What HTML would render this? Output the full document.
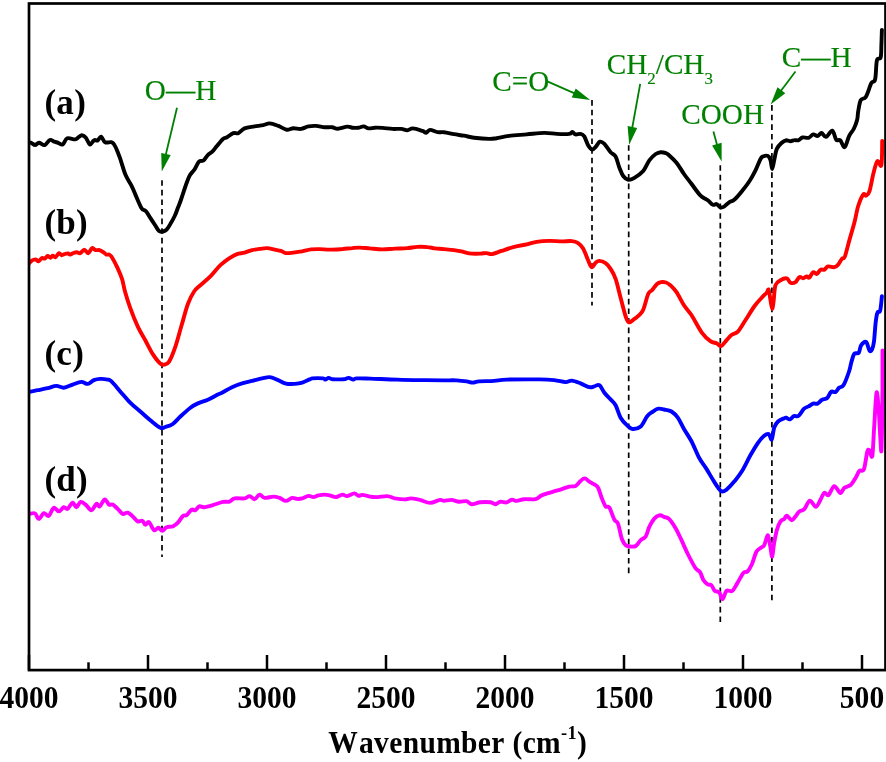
<!DOCTYPE html>
<html><head><meta charset="utf-8"><title>FTIR</title><style>html,body{margin:0;padding:0;background:#fff}svg{display:block}</style></head><body>
<svg width="886" height="762" viewBox="0 0 886 762">
<rect width="886" height="762" fill="#fff"/>
<line x1="162" y1="180.2" x2="162" y2="557" stroke="#000" stroke-width="1.7" stroke-dasharray="5.6 4"/>
<line x1="592" y1="100.1" x2="592" y2="305.5" stroke="#000" stroke-width="1.7" stroke-dasharray="5.6 4"/>
<line x1="628.7" y1="145.2" x2="628.7" y2="577" stroke="#000" stroke-width="1.7" stroke-dasharray="5.6 4"/>
<line x1="720.3" y1="165.2" x2="720.3" y2="622.3" stroke="#000" stroke-width="1.7" stroke-dasharray="5.6 4"/>
<line x1="771.9" y1="105.1" x2="771.9" y2="601" stroke="#000" stroke-width="1.7" stroke-dasharray="5.6 4"/>
<clipPath id="cp"><rect x="29" y="3.5" width="857" height="666.5"/></clipPath><g clip-path="url(#cp)">
<path fill="none" stroke="#000" stroke-width="3.9" stroke-linejoin="round" stroke-linecap="round" d="M29.0,142.4C29.4,142.5 30.5,142.6 31.5,143.0C32.5,143.4 33.9,145.1 35.1,145.1C36.4,145.1 37.4,142.8 39.0,142.8C40.6,142.8 42.9,145.6 44.7,145.1C46.5,144.6 48.2,140.6 49.8,140.0C51.4,139.4 52.9,141.2 54.3,141.7C55.7,142.2 56.8,142.3 58.2,142.8C59.6,143.3 61.2,145.2 62.7,144.5C64.2,143.8 65.1,139.2 67.2,138.3C69.3,137.5 73.2,139.6 75.1,139.4C77.0,139.2 77.4,137.9 78.5,137.2C79.6,136.5 80.7,135.1 81.9,135.2C83.1,135.3 84.6,136.1 85.9,137.7C87.2,139.2 88.6,143.9 89.8,144.5C91.0,145.1 92.3,141.8 93.2,141.1C94.1,140.3 94.2,140.1 94.9,140.0C95.7,139.9 96.7,141.1 97.7,140.5C98.7,139.9 99.9,136.3 101.1,136.6C102.3,136.9 103.4,141.3 105.1,142.2C106.8,143.1 109.8,141.8 111.3,142.2C112.8,142.6 113.2,143.2 114.1,144.5C115.0,145.8 116.1,148.2 116.9,150.1C117.8,152.0 118.6,154.4 119.2,156.0C119.8,157.6 119.5,156.6 120.6,159.8C121.7,163.0 123.8,170.8 125.6,175.1C127.4,179.3 129.7,182.2 131.3,185.3C132.9,188.4 133.3,189.8 135.0,193.6C136.7,197.4 139.6,204.9 141.4,207.9C143.2,210.9 144.5,209.6 146.0,211.3C147.5,213.0 148.8,215.6 150.3,217.9C151.8,220.2 153.5,222.8 155.0,225.0C156.5,227.2 157.8,230.0 159.1,231.1C160.4,232.2 161.8,231.8 163.0,231.5C164.2,231.2 165.4,230.8 166.6,229.6C167.8,228.4 169.0,226.4 170.3,224.1C171.7,221.8 173.4,218.7 174.7,216.0C176.0,213.3 176.9,210.5 177.9,207.8C178.9,205.1 179.5,204.1 180.9,200.0C182.3,195.9 185.1,187.2 186.6,183.0C188.1,178.8 188.7,177.3 190.0,175.1C191.3,172.8 193.0,171.8 194.5,169.5C196.0,167.2 197.5,163.1 199.0,161.6C200.5,160.1 202.0,161.6 203.5,160.5C205.0,159.4 206.5,156.3 208.0,154.8C209.5,153.3 211.0,152.9 212.5,151.4C214.0,149.9 215.3,147.9 217.1,145.8C218.8,143.7 221.3,140.3 223.0,138.9C224.7,137.5 225.3,138.1 227.0,137.2C228.7,136.2 231.4,133.9 233.3,133.2C235.2,132.5 236.4,134.0 238.3,133.2C240.2,132.4 241.9,129.5 244.6,128.4C247.3,127.3 251.5,127.0 254.6,126.4C257.7,125.9 260.8,125.6 263.3,125.1C265.8,124.6 267.1,123.3 269.6,123.4C272.1,123.5 275.6,124.9 278.4,125.9C281.2,127.0 284.1,129.3 286.6,129.7C289.1,130.1 291.0,128.3 293.4,128.2C295.8,128.1 298.4,129.2 300.9,128.9C303.4,128.6 305.9,126.9 308.4,126.4C310.9,125.9 313.3,125.8 316.0,125.9C318.7,126.0 322.0,127.0 324.7,127.2C327.4,127.4 330.0,127.0 332.2,127.2C334.4,127.5 335.3,128.8 337.8,128.7C340.3,128.6 344.9,126.8 347.3,126.6C349.7,126.4 350.4,127.5 352.3,127.7C354.2,127.9 356.7,127.9 358.6,127.7C360.5,127.5 361.9,126.3 363.6,126.4C365.3,126.5 366.7,128.2 368.6,128.4C370.5,128.6 372.5,127.8 374.8,127.7C377.1,127.6 379.5,127.7 382.4,127.9C385.3,128.1 389.3,128.7 392.4,128.9C395.5,129.1 398.7,128.7 401.2,128.9C403.7,129.1 405.4,130.3 407.4,130.2C409.3,130.1 410.4,128.3 412.9,128.4C415.4,128.5 420.2,130.2 422.4,130.9C424.6,131.6 424.9,132.9 426.2,132.7C427.5,132.5 428.1,130.0 430.0,129.9C431.9,129.8 435.2,131.8 437.5,132.2C439.8,132.6 441.2,131.9 444.0,132.2C446.8,132.5 450.7,133.6 454.0,134.2C457.3,134.8 460.6,135.1 464.0,135.7C467.4,136.3 469.9,137.2 474.1,137.7C478.3,138.2 485.4,138.8 489.1,138.9C492.9,139.0 493.3,138.7 496.6,138.2C499.9,137.7 504.1,136.5 509.1,135.9C514.1,135.3 520.9,134.9 526.7,134.4C532.6,133.9 539.2,133.0 544.2,132.9C549.2,132.8 552.6,133.7 556.8,133.9C561.0,134.1 566.7,134.2 569.3,133.9C571.9,133.6 571.3,131.8 572.3,131.9C573.3,132.0 574.1,134.1 575.5,134.4C576.9,134.7 579.1,133.6 580.6,133.9C582.1,134.2 583.0,134.5 584.3,136.4C585.5,138.3 586.8,143.0 588.1,145.2C589.4,147.4 591.0,149.3 592.3,149.5C593.6,149.7 594.8,147.7 596.1,146.4C597.4,145.1 598.5,142.1 599.9,141.7C601.3,141.3 602.6,142.2 604.4,143.9C606.2,145.7 608.7,150.1 610.6,152.2C612.5,154.3 614.1,153.9 615.6,156.5C617.1,159.1 618.1,164.4 619.4,167.7C620.7,170.9 621.7,174.0 623.2,176.0C624.7,178.0 626.3,179.5 628.2,179.8C630.1,180.1 631.9,179.3 634.4,177.8C636.9,176.3 640.7,173.9 643.2,171.0C645.7,168.1 647.4,163.0 649.5,160.2C651.6,157.4 653.8,155.3 655.7,154.0C657.6,152.7 659.0,152.3 660.7,152.2C662.4,152.1 664.6,152.7 666.0,153.2C667.4,153.7 667.2,153.6 669.0,155.2C670.8,156.8 674.0,159.6 676.5,162.7C679.0,165.8 681.5,170.4 684.0,174.0C686.5,177.6 688.9,180.4 691.6,184.0C694.3,187.6 697.6,192.6 700.3,195.3C703.0,198.0 705.7,198.7 707.8,200.3C709.9,201.9 711.4,204.2 712.9,204.8C714.4,205.4 715.4,203.7 716.6,204.1C717.9,204.5 719.1,206.9 720.4,207.3C721.6,207.7 722.6,207.4 724.1,206.6C725.6,205.8 727.4,203.4 729.1,202.3C730.8,201.2 732.1,201.6 734.2,199.8C736.3,198.0 739.2,194.6 741.7,191.5C744.2,188.4 746.9,185.0 749.2,181.5C751.5,178.0 753.6,174.1 755.5,170.3C757.4,166.6 759.2,161.3 760.5,159.0C761.8,156.7 761.8,157.0 763.0,156.5C764.2,156.0 766.8,155.4 768.0,156.0C769.2,156.6 769.8,158.0 770.5,160.2C771.2,162.4 771.6,169.0 772.2,169.0C772.8,169.0 773.4,163.5 774.2,160.2C775.0,156.8 775.5,151.8 776.8,148.9C778.1,146.0 780.3,144.1 781.8,142.7C783.3,141.3 784.5,140.6 786.0,140.3C787.5,140.1 789.1,141.2 790.5,141.2C791.9,141.2 793.2,140.2 794.5,140.1C795.8,139.9 797.1,140.7 798.4,140.3C799.7,139.9 800.7,137.9 802.4,137.5C804.1,137.1 806.8,138.3 808.6,137.8C810.4,137.3 811.6,134.7 813.1,134.4C814.6,134.1 816.2,136.2 817.6,136.0C819.0,135.8 820.2,132.8 821.6,133.0C823.0,133.2 824.3,137.3 826.1,136.9C827.9,136.5 830.6,130.2 832.3,130.7C834.0,131.2 834.9,138.2 836.2,139.8C837.5,141.4 838.8,139.1 840.2,140.3C841.6,141.5 843.2,147.8 844.7,147.1C846.2,146.3 847.7,138.8 849.2,135.8C850.7,132.8 852.4,131.6 853.7,129.0C855.0,126.4 856.4,122.9 857.1,120.0C857.9,117.1 857.6,114.7 858.2,111.4C858.8,108.1 859.5,102.5 860.7,100.1C862.0,97.7 864.1,99.4 865.7,97.1C867.3,94.8 869.1,88.5 870.1,86.0C871.1,83.5 870.9,83.6 871.8,82.4C872.6,81.2 874.4,82.7 875.2,79.0C876.1,75.3 876.0,64.0 876.9,60.4C877.8,56.8 879.9,60.1 880.6,57.6C881.4,55.1 881.2,49.7 881.4,45.1C881.6,40.5 881.8,32.4 881.9,29.9"/>
<path fill="none" stroke="#f00" stroke-width="3.9" stroke-linejoin="round" stroke-linecap="round" d="M29.0,263.4C29.5,262.9 30.7,261.3 31.8,260.6C32.9,259.9 34.6,259.3 35.7,259.4C36.8,259.5 37.5,261.5 38.5,261.3C39.5,261.1 40.9,258.4 41.9,258.0C42.9,257.6 43.8,258.9 44.8,258.6C45.8,258.3 46.7,256.1 47.6,256.0C48.5,255.8 49.5,257.8 50.4,257.7C51.2,257.6 51.9,255.8 52.7,255.7C53.6,255.6 54.5,257.6 55.5,257.2C56.5,256.8 57.9,253.5 58.9,253.2C59.9,252.9 60.8,255.0 61.7,255.2C62.6,255.3 63.5,254.4 64.5,254.1C65.5,253.8 67.0,253.3 67.9,253.4C68.8,253.5 69.2,254.7 70.1,254.6C71.0,254.5 72.4,253.4 73.5,253.0C74.6,252.6 75.8,252.3 76.9,252.3C78.0,252.3 79.1,253.6 80.3,253.2C81.5,252.8 83.0,249.6 84.3,249.6C85.6,249.6 86.9,253.4 88.2,253.2C89.5,252.9 91.0,248.6 92.2,248.1C93.4,247.6 94.3,249.8 95.5,250.1C96.7,250.4 98.1,249.7 99.5,250.1C100.9,250.5 102.9,251.9 104.0,252.7C105.1,253.4 105.5,254.3 106.3,254.6C107.1,254.9 108.2,254.2 109.1,254.6C110.0,255.0 110.5,255.0 111.9,257.2C113.3,259.4 115.8,264.2 117.5,267.9C119.2,271.6 120.8,275.2 122.1,279.2C123.3,283.1 123.7,286.8 125.0,291.6C126.3,296.4 128.1,302.0 130.2,307.8C132.3,313.6 135.3,321.2 137.8,326.6C140.3,332.0 142.8,335.7 145.3,340.3C147.8,344.9 150.3,350.2 152.8,354.1C155.3,358.0 158.4,361.9 160.3,363.6C162.2,365.4 162.6,364.9 164.1,364.6C165.6,364.3 167.2,364.6 169.1,361.6C171.0,358.6 173.3,352.7 175.4,346.6C177.5,340.6 179.5,332.4 181.6,325.3C183.7,318.2 185.8,309.6 187.9,304.0C190.0,298.4 192.0,294.6 194.1,291.5C196.2,288.4 197.7,287.7 200.4,285.2C203.1,282.7 207.1,279.7 210.4,276.4C213.7,273.1 217.2,268.2 220.4,265.2C223.6,262.2 226.7,260.1 229.5,258.2C232.3,256.3 234.5,255.0 237.0,254.1C239.5,253.2 242.1,253.3 244.6,252.6C247.1,251.9 249.6,250.7 252.1,250.1C254.6,249.5 257.1,249.2 259.6,248.9C262.1,248.6 264.6,248.0 267.1,248.1C269.6,248.2 272.3,249.1 274.6,249.6C276.9,250.1 279.0,250.3 280.9,250.9C282.8,251.5 283.8,252.8 285.9,253.1C288.0,253.4 290.7,252.9 293.4,252.6C296.1,252.3 299.3,251.9 302.2,251.4C305.1,250.9 308.1,249.8 311.0,249.4C313.9,249.0 316.6,249.1 319.7,249.1C322.8,249.1 325.9,249.6 329.7,249.6C333.5,249.6 338.5,249.3 342.3,249.1C346.1,248.8 349.4,248.3 352.3,248.1C355.2,247.8 356.9,247.5 359.8,247.6C362.7,247.7 366.0,248.1 369.8,248.4C373.6,248.7 378.2,249.4 382.4,249.4C386.6,249.4 390.7,248.8 394.9,248.6C399.1,248.4 403.6,248.4 407.4,248.1C411.1,247.8 414.0,247.1 417.4,246.9C420.8,246.7 424.6,246.8 427.5,247.1C430.4,247.3 432.2,248.1 435.0,248.4C437.8,248.7 440.8,248.8 444.0,249.1C447.2,249.4 451.1,249.7 454.0,250.1C456.9,250.5 459.0,250.8 461.5,251.4C464.0,252.0 466.0,253.0 469.1,253.4C472.2,253.8 477.4,253.7 480.3,253.6C483.2,253.5 484.6,253.0 486.6,253.1C488.6,253.2 489.6,254.5 492.1,254.1C494.6,253.7 497.9,252.1 501.6,250.9C505.3,249.7 510.0,248.0 514.2,246.9C518.4,245.8 523.0,245.2 526.7,244.4C530.5,243.6 533.0,242.5 536.7,241.9C540.5,241.3 545.0,241.0 549.2,240.9C553.4,240.8 558.0,241.4 561.8,241.4C565.6,241.4 569.1,240.8 571.8,241.1C574.5,241.4 576.2,241.9 578.1,243.1C580.0,244.3 581.4,245.6 583.1,248.4C584.8,251.2 586.7,257.1 588.1,260.2C589.5,263.3 590.5,266.8 591.8,267.2C593.0,267.6 594.3,263.8 595.6,262.7C596.9,261.6 597.7,260.8 599.4,260.9C601.1,261.0 603.7,261.9 605.6,263.2C607.5,264.5 608.9,266.3 610.6,268.9C612.3,271.5 613.9,274.1 615.6,278.9C617.3,283.7 618.9,291.4 620.6,297.7C622.3,304.0 624.3,312.4 625.7,316.5C627.1,320.6 627.6,321.8 628.9,322.3C630.1,322.9 631.5,321.0 633.2,319.8C634.9,318.6 637.2,317.0 638.9,315.3C640.6,313.6 641.7,313.4 643.2,309.8C644.8,306.2 646.7,297.3 648.2,294.0C649.7,290.7 650.5,291.9 652.0,290.2C653.5,288.5 655.5,285.3 657.0,284.0C658.5,282.7 659.2,282.4 660.7,282.2C662.2,281.9 664.4,282.0 666.0,282.5C667.6,283.0 668.5,283.6 670.3,285.2C672.0,286.8 674.2,288.8 676.5,292.2C678.8,295.6 681.5,301.4 684.0,305.3C686.5,309.2 688.7,310.8 691.6,315.3C694.5,319.8 698.5,328.0 701.6,332.3C704.7,336.6 707.9,339.3 710.4,341.1C712.9,342.9 714.8,342.5 716.6,343.3C718.4,344.1 719.6,346.4 721.1,346.1C722.6,345.8 723.6,343.5 725.4,341.6C727.2,339.7 729.6,336.5 731.7,334.8C733.8,333.1 735.6,334.0 737.9,331.6C740.2,329.2 742.7,324.5 745.4,320.3C748.1,316.1 751.5,310.3 754.2,306.5C756.9,302.7 759.6,300.0 761.7,297.7C763.8,295.4 765.5,294.0 766.7,292.7C767.9,291.4 768.1,288.4 768.7,289.7C769.3,290.9 769.9,297.0 770.5,300.2C771.1,303.4 771.7,309.0 772.2,309.0C772.7,309.0 773.2,304.2 773.7,300.2C774.2,296.2 774.4,288.5 775.5,285.2C776.6,281.9 778.6,281.3 780.5,280.2C782.4,279.1 785.1,278.0 786.8,278.4C788.5,278.8 789.0,282.1 790.5,282.7C792.0,283.3 794.0,283.1 795.5,282.2C797.0,281.3 798.0,277.9 799.3,277.2C800.6,276.5 801.9,278.3 803.1,278.2C804.4,278.1 805.8,276.5 806.8,276.4C807.8,276.3 808.2,278.4 809.3,277.7C810.3,277.0 811.9,272.8 813.1,272.2C814.4,271.6 815.5,274.3 816.8,273.9C818.0,273.5 819.3,270.4 820.6,269.7C821.9,269.0 823.1,270.2 824.4,269.7C825.6,269.1 826.4,266.8 828.1,266.4C829.8,266.0 832.7,267.5 834.4,267.2C836.1,266.9 836.9,266.1 838.1,264.7C839.4,263.3 840.8,260.3 841.9,258.9C843.0,257.5 843.6,259.5 844.9,256.4C846.1,253.3 847.8,245.7 849.4,240.1C851.0,234.5 852.9,228.3 854.4,222.6C855.9,216.9 856.7,210.7 858.2,206.0C859.7,201.3 862.0,196.2 863.3,194.5C864.6,192.8 865.1,196.2 866.1,195.6C867.1,195.0 868.3,194.9 869.5,191.1C870.7,187.3 872.2,178.0 873.5,173.0C874.8,168.0 876.1,162.5 877.4,161.2C878.7,159.9 880.6,168.5 881.4,165.1C882.2,161.7 882.1,144.9 882.2,140.9"/>
<path fill="none" stroke="#00f" stroke-width="3.9" stroke-linejoin="round" stroke-linecap="round" d="M29.5,391.9C30.8,391.6 34.5,390.8 37.5,390.2C40.5,389.6 44.5,388.9 47.6,388.2C50.7,387.5 53.6,386.0 56.3,385.9C59.0,385.8 61.1,387.9 63.8,387.7C66.5,387.5 69.7,385.6 72.6,384.6C75.5,383.6 78.9,382.0 81.4,381.9C83.9,381.8 85.6,384.2 87.7,383.9C89.8,383.6 91.8,380.9 93.9,380.1C96.0,379.3 97.9,379.0 100.2,378.9C102.5,378.8 105.8,379.2 107.7,379.6C109.6,380.0 109.4,379.4 111.5,381.4C113.6,383.4 117.1,387.8 120.2,391.4C123.3,394.9 126.8,399.3 130.2,402.7C133.5,406.1 137.0,408.6 140.3,411.5C143.7,414.4 147.0,417.5 150.3,420.2C153.6,422.9 157.8,426.6 160.3,427.7C162.8,428.8 163.2,427.6 165.3,427.0C167.4,426.4 170.3,425.8 172.8,424.0C175.3,422.2 177.5,419.2 180.4,416.5C183.3,413.8 187.5,409.9 190.4,407.7C193.3,405.5 195.0,404.7 197.9,403.4C200.8,402.1 204.6,401.2 207.9,399.7C211.2,398.2 215.6,395.6 217.9,394.4C220.2,393.2 219.7,393.9 222.0,392.7C224.3,391.5 228.7,388.8 232.0,387.2C235.3,385.6 238.7,384.4 242.0,383.4C245.3,382.3 248.8,381.7 252.1,380.9C255.4,380.1 259.2,379.0 262.1,378.4C265.0,377.8 267.1,376.9 269.6,377.1C272.1,377.3 274.4,378.5 277.1,379.6C279.8,380.7 283.0,382.9 285.9,383.6C288.8,384.3 292.0,384.1 294.7,383.9C297.4,383.7 299.7,383.4 302.2,382.6C304.7,381.9 308.0,380.1 309.7,379.4C311.4,378.7 309.9,378.6 312.1,378.4C314.4,378.2 321.0,378.2 323.2,378.4C325.4,378.6 324.4,379.7 325.3,379.6C326.2,379.5 327.5,378.0 328.7,377.9C329.9,377.8 330.2,379.0 332.7,379.2C335.2,379.4 341.1,379.4 343.7,379.2C346.3,379.0 346.9,377.8 348.5,377.9C350.1,378.0 351.9,379.5 353.2,379.6C354.5,379.7 353.6,378.6 356.4,378.4C359.2,378.2 363.2,378.4 370.0,378.6C376.8,378.8 388.7,379.4 397.4,379.6C406.1,379.9 414.6,380.0 422.4,380.1C430.2,380.2 438.3,380.3 444.0,380.4C449.7,380.4 452.7,380.2 456.5,380.4C460.3,380.6 463.9,381.0 466.6,381.4C469.3,381.8 470.7,382.6 472.8,382.6C474.9,382.6 475.6,381.7 479.1,381.4C482.7,381.1 489.5,381.2 494.1,380.9C498.7,380.6 499.1,379.9 506.6,379.6C514.1,379.4 531.3,379.3 539.2,379.4C547.1,379.5 549.8,379.7 554.2,380.1C558.6,380.6 562.6,382.0 565.5,382.1C568.4,382.2 569.3,380.4 571.8,380.6C574.3,380.8 577.7,382.3 580.6,383.4C583.5,384.5 587.0,386.7 589.3,387.2C591.6,387.7 592.6,386.8 594.3,386.4C596.0,386.0 597.7,384.1 599.4,385.1C601.1,386.2 602.5,390.3 604.4,392.7C606.3,395.1 608.7,397.3 610.6,399.4C612.5,401.5 613.9,402.1 615.6,405.2C617.3,408.2 618.7,414.4 620.6,417.7C622.5,421.0 624.9,423.3 626.9,425.2C628.9,427.1 630.1,428.8 632.4,429.0C634.7,429.2 638.3,428.6 640.7,426.5C643.1,424.4 645.1,418.9 647.0,416.5C648.9,414.1 650.1,413.5 652.0,412.2C653.9,410.9 656.2,409.1 658.2,408.7C660.2,408.2 661.8,409.0 664.0,409.5C666.2,410.0 669.2,410.1 671.5,411.5C673.8,412.9 675.7,414.8 677.8,417.7C679.9,420.6 681.7,425.0 684.0,429.0C686.3,433.0 689.1,436.7 691.6,441.5C694.1,446.3 696.6,453.2 699.1,457.8C701.6,462.4 704.1,465.1 706.6,469.1C709.1,473.1 711.7,477.9 714.1,481.6C716.5,485.3 719.0,489.8 721.1,491.1C723.2,492.4 724.4,491.2 726.6,489.6C728.8,488.0 731.7,484.6 734.2,481.6C736.7,478.6 739.0,476.0 741.7,471.6C744.4,467.2 747.7,460.1 750.4,455.3C753.1,450.5 755.7,446.1 758.0,442.8C760.3,439.6 762.4,437.3 764.2,435.8C766.0,434.3 767.5,433.4 768.7,434.0C770.0,434.6 770.8,440.6 771.7,439.5C772.6,438.4 773.2,430.7 774.2,427.7C775.2,424.7 776.3,423.1 778.0,421.5C779.7,419.9 783.0,418.8 784.3,418.2C785.6,417.6 785.0,417.5 786.0,417.7C787.0,417.9 788.7,419.7 790.0,419.4C791.3,419.1 792.5,416.6 793.9,416.0C795.3,415.4 796.7,417.2 798.4,416.0C800.1,414.8 802.4,410.3 804.1,408.7C805.8,407.1 807.1,407.2 808.6,406.4C810.1,405.5 811.6,404.1 813.1,403.6C814.6,403.1 816.1,404.2 817.6,403.6C819.1,403.0 820.5,400.6 822.1,399.7C823.7,398.8 825.7,399.3 827.2,398.0C828.7,396.7 829.7,392.8 831.1,391.8C832.5,390.8 834.4,392.7 835.7,392.0C837.0,391.3 837.7,389.0 839.0,387.8C840.3,386.6 841.9,387.8 843.6,385.0C845.3,382.2 847.9,374.9 849.2,371.0C850.5,367.1 850.6,364.6 851.5,361.7C852.4,358.8 853.1,355.3 854.3,353.8C855.5,352.3 857.7,354.1 858.8,352.7C859.9,351.3 859.9,347.2 861.1,345.4C862.3,343.6 864.7,341.1 866.1,342.0C867.5,342.9 868.5,349.2 869.5,350.5C870.5,351.8 871.0,351.4 871.8,349.9C872.5,348.4 873.4,346.0 874.0,341.4C874.6,336.8 875.1,327.0 875.7,322.2C876.3,317.4 876.6,314.7 877.4,312.7C878.1,310.7 879.5,313.1 880.2,310.4C881.0,307.7 881.6,298.6 881.9,296.3"/>
<path fill="none" stroke="#f0f" stroke-width="3.9" stroke-linejoin="round" stroke-linecap="round" d="M29.5,513.9C30.4,513.8 33.5,512.6 35.0,513.4C36.5,514.2 37.3,518.9 38.8,518.9C40.3,518.9 42.1,513.7 43.8,513.2C45.5,512.7 47.1,516.8 48.8,515.9C50.5,515.0 52.1,508.4 53.8,507.7C55.5,506.9 57.1,511.5 58.8,511.4C60.5,511.3 62.3,507.6 63.8,507.2C65.3,506.8 66.1,509.7 67.6,508.9C69.1,508.1 71.1,502.9 72.6,502.6C74.1,502.3 75.1,507.3 76.4,507.2C77.7,507.1 79.1,502.3 80.6,501.9C82.1,501.5 83.8,503.2 85.6,504.6C87.4,506.0 89.6,510.3 91.4,510.2C93.2,510.1 95.0,504.5 96.4,503.9C97.8,503.3 98.3,507.1 99.7,506.4C101.1,505.6 103.2,499.7 104.7,499.4C106.2,499.1 107.7,503.7 109.0,504.6C110.3,505.5 111.2,503.9 112.7,504.6C114.2,505.3 116.0,507.3 117.7,508.9C119.4,510.4 121.0,513.3 122.7,513.9C124.4,514.5 126.0,512.3 127.7,512.7C129.4,513.1 131.1,515.0 132.8,516.4C134.5,517.8 136.2,520.7 137.8,521.4C139.4,522.1 141.1,520.2 142.3,520.7C143.6,521.2 144.2,524.5 145.3,524.7C146.4,525.0 147.5,521.3 149.0,522.2C150.5,523.1 152.5,529.3 154.1,530.2C155.7,531.1 156.9,527.6 158.3,527.7C159.7,527.8 160.9,530.8 162.3,530.7C163.7,530.6 164.8,527.9 166.6,527.2C168.3,526.5 170.9,527.1 172.8,526.4C174.7,525.6 176.2,524.5 177.9,522.7C179.6,521.0 181.5,517.1 182.9,515.9C184.3,514.6 185.2,516.2 186.6,515.2C188.0,514.2 190.1,510.5 191.6,509.7C193.1,508.9 194.1,510.8 195.4,510.2C196.7,509.6 197.7,506.9 199.2,506.4C200.7,505.9 201.9,507.4 204.2,507.2C206.5,507.0 209.8,506.0 212.9,505.1C216.0,504.2 220.2,502.5 223.0,501.9C225.8,501.3 227.6,502.3 229.5,501.7C231.4,501.1 232.0,498.9 234.5,498.4C237.0,497.8 242.1,498.8 244.6,498.4C247.1,498.0 247.9,496.0 249.6,496.1C251.3,496.2 252.9,499.4 254.6,499.2C256.3,498.9 257.9,494.8 259.6,494.6C261.3,494.4 262.3,497.6 264.6,497.9C266.9,498.2 270.9,496.6 273.4,496.6C275.9,496.6 277.5,497.2 279.6,497.9C281.7,498.6 283.8,500.9 285.9,500.9C288.0,500.9 290.3,498.2 292.2,497.9C294.1,497.6 295.5,498.8 297.2,498.9C298.9,499.0 300.3,498.9 302.2,498.4C304.1,497.9 306.5,496.1 308.4,495.9C310.3,495.7 311.8,497.2 313.5,497.1C315.2,497.0 316.6,495.8 318.5,495.4C320.4,495.0 322.8,494.6 324.7,494.6C326.6,494.6 327.8,495.0 329.7,495.4C331.6,495.8 333.9,497.2 336.0,497.1C338.1,497.0 340.4,494.8 342.3,494.6C344.2,494.4 345.3,496.3 347.3,496.1C349.3,495.9 352.4,493.4 354.3,493.4C356.2,493.4 357.3,495.6 358.6,495.9C359.9,496.1 360.4,494.8 362.3,494.9C364.2,495.0 367.3,496.2 369.8,496.6C372.3,497.0 374.5,497.2 377.4,497.1C380.3,497.0 384.5,495.9 387.4,496.1C390.3,496.3 392.0,497.8 394.9,498.4C397.8,498.9 402.2,499.4 404.9,499.4C407.6,499.4 408.7,498.3 411.2,498.4C413.7,498.5 416.9,499.1 420.0,499.9C423.1,500.6 426.7,502.9 430.0,502.9C433.3,502.9 437.7,500.2 440.0,499.9C442.3,499.6 442.1,500.9 444.0,500.9C445.9,500.9 449.0,499.8 451.5,499.9C454.0,500.0 456.5,501.5 459.0,501.7C461.5,501.9 464.5,500.8 466.6,501.2C468.7,501.6 469.3,504.0 471.6,504.2C473.9,504.4 477.2,502.5 480.3,502.2C483.4,501.9 487.9,501.9 490.4,502.2C492.9,502.5 493.7,504.3 495.4,504.2C497.1,504.1 498.5,502.0 500.4,501.7C502.3,501.4 504.7,502.7 506.6,502.4C508.5,502.1 510.0,499.9 511.7,499.7C513.4,499.4 514.6,501.0 516.7,500.9C518.8,500.8 521.1,499.5 524.2,499.2C527.3,498.9 532.6,499.8 535.5,499.2C538.4,498.6 539.0,496.6 541.7,495.4C544.4,494.2 548.4,493.2 551.7,492.1C555.1,491.1 558.9,490.0 561.8,489.1C564.7,488.2 567.0,487.1 569.3,486.6C571.6,486.1 573.6,486.8 575.5,485.9C577.4,484.9 579.1,482.1 580.6,480.9C582.1,479.6 583.3,478.3 584.8,478.4C586.2,478.5 587.7,480.6 589.3,481.6C590.9,482.6 592.8,483.4 594.3,484.4C595.8,485.4 596.8,485.4 598.1,487.7C599.4,490.0 600.6,495.3 601.9,498.4C603.1,501.5 604.4,504.8 605.6,506.4C606.9,507.9 607.9,505.5 609.4,507.7C610.9,509.9 612.9,517.0 614.4,519.7C615.9,522.4 616.9,520.7 618.1,523.9C619.4,527.1 620.6,535.5 621.9,539.0C623.2,542.5 624.2,544.0 625.7,545.2C627.2,546.5 629.0,546.4 630.7,546.5C632.4,546.6 634.0,547.0 635.7,546.0C637.4,545.0 639.0,541.8 640.7,540.2C642.4,538.6 644.2,538.8 645.7,536.5C647.2,534.2 648.0,529.4 649.5,526.4C651.0,523.4 652.8,520.3 654.5,518.4C656.2,516.5 658.4,515.5 660.0,515.2C661.6,515.0 662.5,516.3 664.0,516.9C665.5,517.5 667.1,517.1 669.0,518.9C670.9,520.7 673.2,524.2 675.3,527.7C677.4,531.2 679.4,535.8 681.5,540.2C683.6,544.6 685.5,549.4 687.8,554.0C690.1,558.6 693.3,564.8 695.3,567.8C697.3,570.8 698.6,570.1 700.0,572.1C701.4,574.1 702.1,577.9 703.4,580.0C704.7,582.1 706.6,583.6 707.9,584.5C709.2,585.4 710.2,584.1 711.3,585.1C712.4,586.1 713.4,589.5 714.7,590.7C716.0,591.9 717.9,591.0 719.2,592.4C720.5,593.8 721.4,599.5 722.6,599.2C723.8,598.9 724.9,592.1 726.5,590.7C728.1,589.3 730.4,592.2 732.2,591.0C734.0,589.8 735.3,586.4 737.2,583.4C739.1,580.4 741.8,574.7 743.5,572.7C745.2,570.7 746.0,572.9 747.4,571.5C748.8,570.1 750.4,567.5 751.9,564.2C753.4,560.9 754.9,554.5 756.4,551.8C757.9,549.1 759.6,548.9 760.9,547.8C762.2,546.7 763.0,547.3 764.2,545.2C765.4,543.1 767.0,534.8 768.0,535.2C769.0,535.6 769.8,544.2 770.5,547.7C771.2,551.2 771.6,557.3 772.2,556.5C772.8,555.7 773.4,547.1 774.2,542.7C775.0,538.3 775.8,533.8 776.8,530.2C777.8,526.7 779.2,523.3 780.5,521.4C781.8,519.5 783.2,519.8 784.3,518.9C785.3,518.0 785.5,515.5 786.8,515.7C788.0,515.9 790.3,520.1 791.8,520.2C793.2,520.3 794.2,517.9 795.5,516.4C796.8,514.9 797.8,512.6 799.3,511.4C800.8,510.2 802.5,511.0 804.3,509.2C806.0,507.4 807.9,501.0 809.8,500.6C811.7,500.2 814.1,507.0 815.9,506.8C817.7,506.6 819.2,501.9 820.6,499.5C822.0,497.1 823.1,493.4 824.4,492.7C825.7,492.0 826.9,496.3 828.5,495.2C830.1,494.1 832.2,486.5 834.2,486.1C836.2,485.7 838.6,492.7 840.3,493.0C842.0,493.3 842.7,489.0 844.4,487.7C846.1,486.4 848.8,486.7 850.7,485.0C852.6,483.3 854.2,480.1 855.7,477.7C857.2,475.3 858.0,472.2 859.4,470.8C860.8,469.4 862.6,472.5 863.9,469.3C865.2,466.1 866.4,454.7 867.3,451.6C868.2,448.5 868.7,449.8 869.5,450.5C870.3,451.2 871.5,459.5 872.3,456.1C873.0,452.7 873.4,439.1 874.0,430.1C874.6,421.1 875.2,408.2 875.7,401.9C876.2,395.6 876.4,391.4 876.9,392.3C877.4,393.2 878.0,400.4 878.6,407.6C879.2,414.9 879.7,428.6 880.2,435.8C880.7,443.0 881.1,453.8 881.4,451.0C881.7,448.2 882.0,429.9 882.2,418.9C882.4,407.9 882.5,396.4 882.5,385.0C882.5,373.6 882.5,356.2 882.5,350.5"/>
</g>
<rect x="29" y="3.5" width="856.5" height="666.6" fill="none" stroke="#000" stroke-width="2.7"/>
<line x1="29.0" y1="670" x2="29.0" y2="655" stroke="#000" stroke-width="2.5"/>
<line x1="88.5" y1="670" x2="88.5" y2="662.3" stroke="#000" stroke-width="2.5"/>
<line x1="148.0" y1="670" x2="148.0" y2="655" stroke="#000" stroke-width="2.5"/>
<line x1="207.5" y1="670" x2="207.5" y2="662.3" stroke="#000" stroke-width="2.5"/>
<line x1="267.0" y1="670" x2="267.0" y2="655" stroke="#000" stroke-width="2.5"/>
<line x1="326.5" y1="670" x2="326.5" y2="662.3" stroke="#000" stroke-width="2.5"/>
<line x1="386.0" y1="670" x2="386.0" y2="655" stroke="#000" stroke-width="2.5"/>
<line x1="445.5" y1="670" x2="445.5" y2="662.3" stroke="#000" stroke-width="2.5"/>
<line x1="505.0" y1="670" x2="505.0" y2="655" stroke="#000" stroke-width="2.5"/>
<line x1="564.5" y1="670" x2="564.5" y2="662.3" stroke="#000" stroke-width="2.5"/>
<line x1="624.0" y1="670" x2="624.0" y2="655" stroke="#000" stroke-width="2.5"/>
<line x1="683.5" y1="670" x2="683.5" y2="662.3" stroke="#000" stroke-width="2.5"/>
<line x1="743.0" y1="670" x2="743.0" y2="655" stroke="#000" stroke-width="2.5"/>
<line x1="802.5" y1="670" x2="802.5" y2="662.3" stroke="#000" stroke-width="2.5"/>
<line x1="862.0" y1="670" x2="862.0" y2="655" stroke="#000" stroke-width="2.5"/>
<text transform="translate(29.0,707.5) scale(0.968,1)" font-family="'Liberation Serif', serif" font-weight="bold" font-size="30.5px" text-anchor="middle" fill="#000" >4000</text>
<text transform="translate(148.0,707.5) scale(0.968,1)" font-family="'Liberation Serif', serif" font-weight="bold" font-size="30.5px" text-anchor="middle" fill="#000" >3500</text>
<text transform="translate(267.0,707.5) scale(0.968,1)" font-family="'Liberation Serif', serif" font-weight="bold" font-size="30.5px" text-anchor="middle" fill="#000" >3000</text>
<text transform="translate(386.0,707.5) scale(0.968,1)" font-family="'Liberation Serif', serif" font-weight="bold" font-size="30.5px" text-anchor="middle" fill="#000" >2500</text>
<text transform="translate(505.0,707.5) scale(0.968,1)" font-family="'Liberation Serif', serif" font-weight="bold" font-size="30.5px" text-anchor="middle" fill="#000" >2000</text>
<text transform="translate(624.0,707.5) scale(0.968,1)" font-family="'Liberation Serif', serif" font-weight="bold" font-size="30.5px" text-anchor="middle" fill="#000" >1500</text>
<text transform="translate(743.0,707.5) scale(0.968,1)" font-family="'Liberation Serif', serif" font-weight="bold" font-size="30.5px" text-anchor="middle" fill="#000" >1000</text>
<text transform="translate(862.0,707.5) scale(0.968,1)" font-family="'Liberation Serif', serif" font-weight="bold" font-size="30.5px" text-anchor="middle" fill="#000" >500</text>
<text transform="translate(328.2,753.0) scale(0.968,1)" font-family="'Liberation Serif', serif" font-weight="bold" font-size="30.5px" text-anchor="start" fill="#000" style="font-kerning:none" letter-spacing="0.36">W<tspan dx="1">avenumber</tspan> (cm<tspan font-size="19px" dy="-14.5">-1</tspan><tspan dy="14.5">)</tspan></text>
<text transform="translate(44.4,113.8) scale(1.0,1)" font-family="'Liberation Serif', serif" font-weight="bold" font-size="35px" text-anchor="start" fill="#000" letter-spacing="0.3">(a)</text>
<text transform="translate(44.4,233.7) scale(1.0,1)" font-family="'Liberation Serif', serif" font-weight="bold" font-size="35px" text-anchor="start" fill="#000" letter-spacing="0.3">(b)</text>
<text transform="translate(44.4,364.7) scale(1.0,1)" font-family="'Liberation Serif', serif" font-weight="bold" font-size="35px" text-anchor="start" fill="#000" letter-spacing="0.3">(c)</text>
<text transform="translate(44.4,491.4) scale(1.0,1)" font-family="'Liberation Serif', serif" font-weight="bold" font-size="35px" text-anchor="start" fill="#000" letter-spacing="0.3">(d)</text>
<text transform="translate(144.8,100.3) scale(0.965,1)" font-family="'Liberation Serif', serif" font-size="30.3px" fill="#008000" stroke="#008000" stroke-width="0.15">O—H</text>
<text transform="translate(492.3,90.9) scale(0.965,1)" font-family="'Liberation Serif', serif" font-size="30.3px" fill="#008000" stroke="#008000" stroke-width="0.15">C=O</text>
<text transform="translate(606.7,74.0) scale(0.965,1)" font-family="'Liberation Serif', serif" font-size="30.3px" fill="#008000" stroke="#008000" stroke-width="0.15">CH<tspan font-size="17.5px" dy="9.8">2</tspan><tspan dy="-9.8">/CH</tspan><tspan font-size="17.5px" dy="9.8">3</tspan></text>
<text transform="translate(681.2,123.9) scale(0.965,1)" font-family="'Liberation Serif', serif" font-size="30.3px" fill="#008000" stroke="#008000" stroke-width="0.15">COOH</text>
<text transform="translate(781.8,67.1) scale(0.965,1)" font-family="'Liberation Serif', serif" font-size="30.3px" fill="#008000" stroke="#008000" stroke-width="0.15">C—H</text>
<line x1="177.0" y1="107.8" x2="165.7" y2="155.0" stroke="#008000" stroke-width="1.8"/><polygon points="161.8,171.5 161.2,152.9 170.7,155.1" fill="#008000"/>
<line x1="547.3" y1="81.4" x2="574.6" y2="93.3" stroke="#008000" stroke-width="1.8"/><polygon points="590.2,100.1 571.7,97.4 575.7,88.4" fill="#008000"/>
<line x1="640.2" y1="83.8" x2="632.2" y2="128.0" stroke="#008000" stroke-width="1.8"/><polygon points="629.2,144.7 627.6,126.1 637.2,127.9" fill="#008000"/>
<line x1="713.4" y1="131.4" x2="717.1" y2="145.1" stroke="#008000" stroke-width="1.8"/><polygon points="721.6,161.5 712.1,145.4 721.6,142.8" fill="#008000"/>
<line x1="795.5" y1="71.5" x2="780.8" y2="91.0" stroke="#008000" stroke-width="1.8"/><polygon points="770.6,104.6 777.5,87.3 785.3,93.2" fill="#008000"/>
</svg>
</body></html>
